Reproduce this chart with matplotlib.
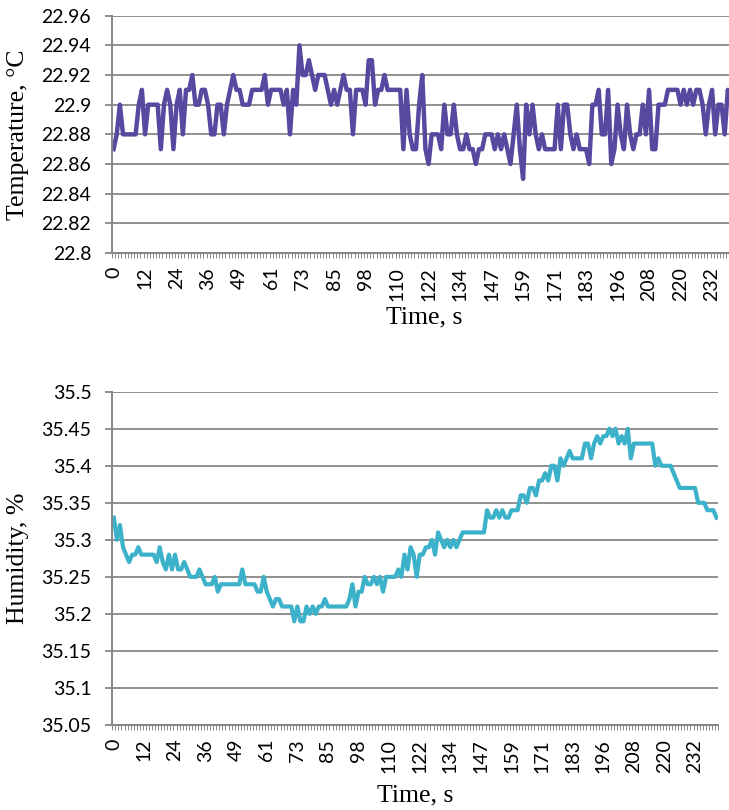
import numpy as np
import matplotlib
matplotlib.use("Agg")
import matplotlib.pyplot as plt
from matplotlib.ticker import FixedLocator, FuncFormatter

# ---- data (one sample per category, ~1.22 s apart) ----
time_labels = ["0", "12", "24", "36", "49", "61", "73", "85", "98", "110",
               "122", "134", "147", "159", "171", "183", "196", "208", "220", "232"]

temperature = [
    22.87, 22.88, 22.90, 22.88, 22.88, 22.88, 22.88, 22.88, 22.90, 22.91,
    22.88, 22.90, 22.90, 22.90, 22.90, 22.87, 22.90, 22.91, 22.90, 22.87,
    22.90, 22.91, 22.88, 22.91, 22.91, 22.92, 22.90, 22.90, 22.91, 22.91,
    22.90, 22.88, 22.88, 22.90, 22.90, 22.88, 22.90, 22.91, 22.92, 22.91,
    22.91, 22.90, 22.90, 22.90, 22.91, 22.91, 22.91, 22.91, 22.92, 22.90,
    22.91, 22.91, 22.91, 22.91, 22.90, 22.91, 22.88, 22.91, 22.90, 22.94,
    22.92, 22.92, 22.93, 22.92, 22.91, 22.92, 22.92, 22.92, 22.91, 22.90,
    22.91, 22.90, 22.91, 22.92, 22.91, 22.91, 22.88, 22.91, 22.91, 22.91,
    22.90, 22.93, 22.93, 22.90, 22.91, 22.91, 22.92, 22.91, 22.91, 22.91,
    22.91, 22.91, 22.87, 22.91, 22.88, 22.87, 22.87, 22.90, 22.92, 22.87,
    22.86, 22.88, 22.88, 22.88, 22.87, 22.90, 22.88, 22.88, 22.90, 22.88,
    22.87, 22.87, 22.88, 22.87, 22.87, 22.86, 22.87, 22.87, 22.88, 22.88,
    22.88, 22.87, 22.88, 22.87, 22.88, 22.87, 22.86, 22.88, 22.90, 22.87,
    22.85, 22.90, 22.88, 22.90, 22.88, 22.87, 22.88, 22.87, 22.87, 22.87,
    22.87, 22.90, 22.87, 22.90, 22.90, 22.88, 22.87, 22.88, 22.87, 22.87,
    22.87, 22.86, 22.90, 22.90, 22.91, 22.88, 22.88, 22.91, 22.86, 22.87,
    22.90, 22.88, 22.87, 22.90, 22.88, 22.87, 22.88, 22.88, 22.90, 22.88,
    22.91, 22.87, 22.87, 22.90, 22.90, 22.90, 22.91, 22.91, 22.91, 22.91,
    22.90, 22.91, 22.90, 22.91, 22.90, 22.91, 22.91, 22.90, 22.88, 22.90,
    22.91, 22.88, 22.90, 22.90, 22.88, 22.91, 22.90, 22.91,
]

humidity = [
    35.33, 35.30, 35.32, 35.29, 35.28, 35.27, 35.28, 35.28, 35.29, 35.28,
    35.28, 35.28, 35.28, 35.28, 35.27, 35.29, 35.27, 35.26, 35.28, 35.26,
    35.28, 35.26, 35.26, 35.27, 35.26, 35.25, 35.25, 35.25, 35.26, 35.25,
    35.24, 35.24, 35.24, 35.25, 35.23, 35.24, 35.24, 35.24, 35.24, 35.24,
    35.24, 35.24, 35.26, 35.24, 35.24, 35.24, 35.24, 35.23, 35.23, 35.25,
    35.23, 35.22, 35.21, 35.22, 35.22, 35.21, 35.21, 35.21, 35.21, 35.19,
    35.21, 35.19, 35.19, 35.21, 35.20, 35.21, 35.20, 35.21, 35.21, 35.22,
    35.21, 35.21, 35.21, 35.21, 35.21, 35.21, 35.21, 35.22, 35.24, 35.21,
    35.23, 35.23, 35.25, 35.24, 35.24, 35.25, 35.24, 35.25, 35.23, 35.25,
    35.25, 35.25, 35.25, 35.26, 35.25, 35.28, 35.26, 35.29, 35.28, 35.25,
    35.28, 35.28, 35.29, 35.29, 35.30, 35.28, 35.31, 35.30, 35.29, 35.30,
    35.29, 35.30, 35.29, 35.30, 35.31, 35.31, 35.31, 35.31, 35.31, 35.31,
    35.31, 35.31, 35.34, 35.33, 35.33, 35.34, 35.33, 35.34, 35.33, 35.33,
    35.34, 35.34, 35.34, 35.36, 35.36, 35.35, 35.37, 35.37, 35.36, 35.38,
    35.38, 35.39, 35.38, 35.40, 35.40, 35.38, 35.41, 35.40, 35.41, 35.42,
    35.41, 35.41, 35.41, 35.41, 35.43, 35.43, 35.41, 35.43, 35.44, 35.43,
    35.44, 35.44, 35.45, 35.44, 35.45, 35.43, 35.44, 35.43, 35.45, 35.41,
    35.43, 35.43, 35.43, 35.43, 35.43, 35.43, 35.43, 35.40, 35.41, 35.40,
    35.40, 35.40, 35.40, 35.39, 35.38, 35.37, 35.37, 35.37, 35.37, 35.37,
    35.37, 35.35, 35.35, 35.35, 35.34, 35.34, 35.34, 35.33,
]

temp_ticks = [22.8, 22.82, 22.84, 22.86, 22.88, 22.9, 22.92, 22.94, 22.96]
hum_ticks = [35.05, 35.1, 35.15, 35.2, 35.25, 35.3, 35.35, 35.4, 35.45, 35.5]

GRID = "#878787"
TICK_FONT = "Lato"
LABEL_FONT = "Liberation Serif"


def style_axis(ax, n, yticks, ylabel, xlabelpad):
    ax.set_xlim(-0.5, n - 0.5)
    ax.set_ylim(yticks[0], yticks[-1])
    ax.set_yticks(yticks)
    ax.yaxis.set_major_formatter(FuncFormatter(lambda v, p: f"{round(v, 2):g}"))
    ax.grid(axis="y", color=GRID, linewidth=1.3)
    ax.set_axisbelow(True)
    for s in ("top", "right"):
        ax.spines[s].set_visible(False)
    for s in ("left", "bottom"):
        ax.spines[s].set_color(GRID)
        ax.spines[s].set_linewidth(1.4)
    # category labels every 10 samples, little ticks at each category boundary
    ax.set_xticks(np.arange(0, n, 10)[:len(time_labels)])
    ax.set_xticklabels(time_labels, rotation=90, fontfamily=TICK_FONT, fontsize=14)
    ax.xaxis.set_minor_locator(FixedLocator(np.arange(n + 1) - 0.5))
    ax.tick_params(axis="x", which="major", length=0, pad=10)
    ax.tick_params(axis="x", which="minor", length=3.5, width=0.7, color=GRID)
    ax.tick_params(axis="y", length=5, width=1.3, color=GRID, pad=10)
    for lbl in ax.get_yticklabels():
        lbl.set_fontfamily(TICK_FONT)
        lbl.set_fontsize(14)
    ax.set_xlabel("Time, s", fontfamily=LABEL_FONT, fontsize=18.5, labelpad=xlabelpad)
    ax.set_ylabel(ylabel, fontfamily=LABEL_FONT, fontsize=18.5, labelpad=9)


fig = plt.figure(figsize=(7.29, 8.10), dpi=100)

n = len(temperature)
x = np.arange(n)

ax1 = fig.add_axes([112 / 729, 1 - 253 / 810, 623.7 / 729, 237.3 / 810])
ax1.plot(x, temperature, color="#5549a0", linewidth=3.2, solid_joinstyle="round")
style_axis(ax1, n, temp_ticks, "Temperature, °C", 4)

ax2 = fig.add_axes([112.3 / 729, 1 - 725 / 810, 605.7 / 729, 333.3 / 810])
ax2.plot(np.arange(len(humidity)), humidity, color="#3cb2ca", linewidth=3.0,
         solid_joinstyle="round")
style_axis(ax2, len(humidity), hum_ticks, "Humidity, %", 8)

fig.savefig("out.png", dpi=100)
